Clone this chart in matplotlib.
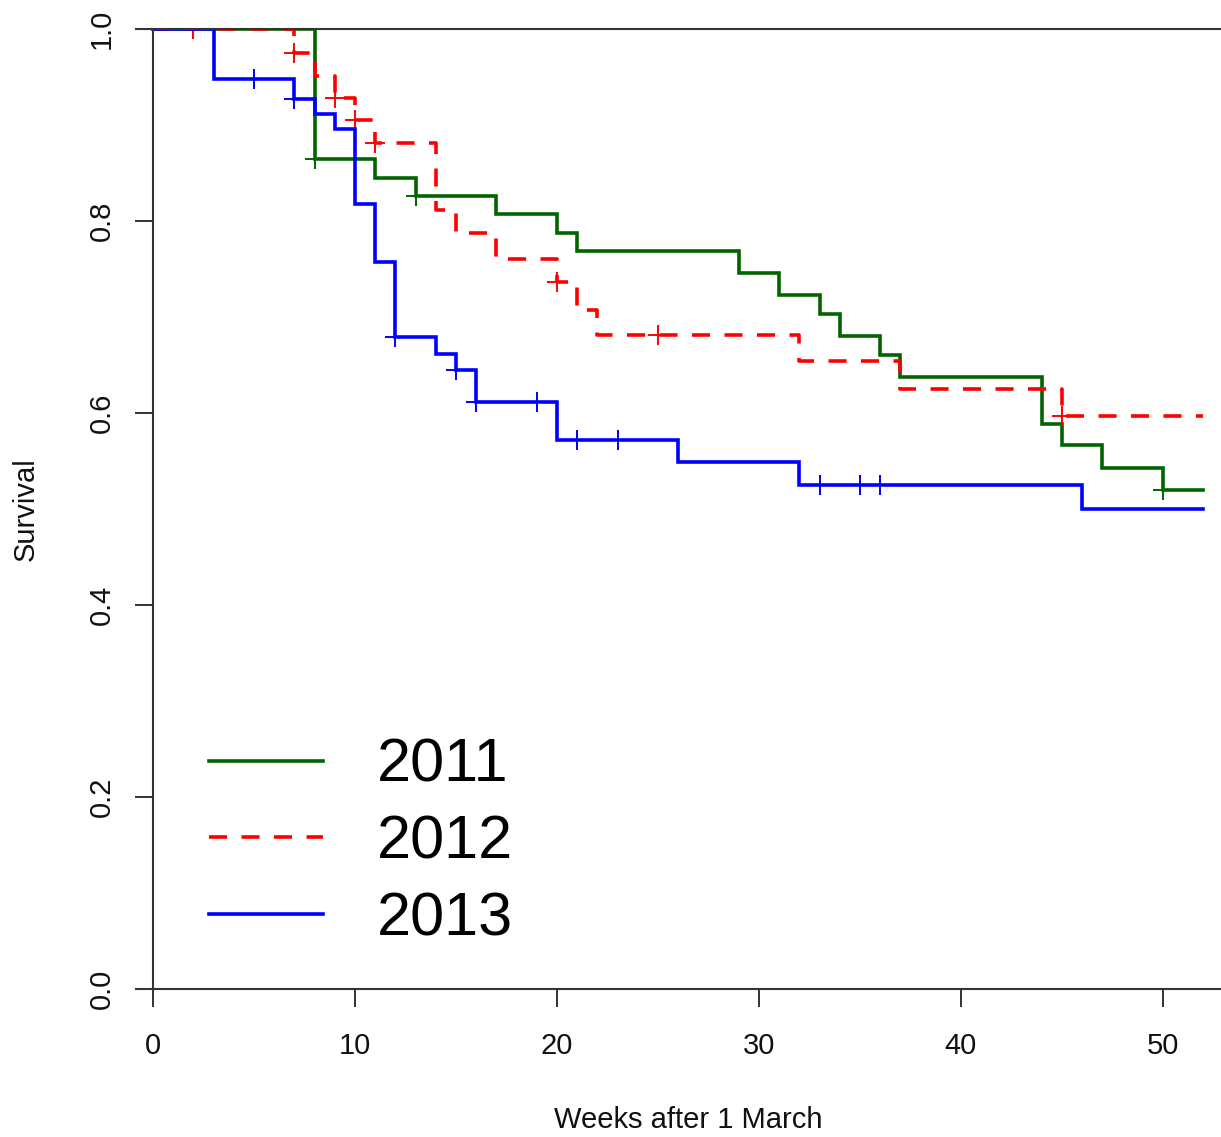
import numpy as np
import matplotlib
matplotlib.use("Agg")
import matplotlib.pyplot as plt

plt.rcParams['font.family'] = ['Liberation Sans', 'DejaVu Sans']

# ---- data ----
years = ["2011", "2012", "2013"]

t_2011 = [0, 8, 11, 13, 17, 20, 21, 29, 31, 33, 34, 36, 37, 44, 45, 47, 50]
s_2011 = [1.0, 0.865, 0.845, 0.826, 0.807, 0.788, 0.769, 0.746, 0.723, 0.703,
          0.680, 0.660, 0.637, 0.589, 0.567, 0.543, 0.520]
c_2011 = [8, 13, 50]

t_2012 = [0, 7, 8, 9, 10, 11, 14, 15, 17, 20, 21, 22, 32, 37, 45]
s_2012 = [1.0, 0.975, 0.951, 0.928, 0.905, 0.881, 0.811, 0.787, 0.760, 0.736,
          0.707, 0.681, 0.654, 0.625, 0.597]
c_2012 = [2, 7, 9, 10, 11, 20, 25, 45]

t_2013 = [0, 3, 7, 8, 9, 10, 11, 12, 14, 15, 16, 20, 26, 32, 46]
s_2013 = [1.0, 0.948, 0.927, 0.911, 0.896, 0.818, 0.757, 0.679, 0.661, 0.645,
          0.611, 0.572, 0.549, 0.525, 0.500]
c_2013 = [5, 7, 12, 15, 16, 19, 21, 23, 33, 35, 36]

t_end = 52
x_ticks = [0, 10, 20, 30, 40, 50]
y_ticks = [0.0, 0.2, 0.4, 0.6, 0.8, 1.0]

colors = ["#006400", "#FF0000", "#0000FF"]
styles = ["-", (0, (5, 4)), "-"]

# ---- figure ----
W, H = 1221, 1137
fig = plt.figure(figsize=(W / 100, H / 100), dpi=100)
ax = fig.add_axes([136 / W, 1 - 989 / H, (W - 136) / W, (989 - 29) / H])
ax.set_xlim(-0.84, (W - 153) / 20.2)
ax.set_ylim(0, 1)

series = [(t_2011, s_2011, c_2011), (t_2012, s_2012, c_2012), (t_2013, s_2013, c_2013)]
for (tt, ss, cc), col, ls, lab in zip(series, colors, styles, years):
    tt_full = np.array(tt + [t_end], dtype=float)
    ss_full = np.array(ss + [ss[-1]], dtype=float)
    ax.step(tt_full, ss_full, where='post', color=col, lw=2.6, ls=ls, label=lab,
            solid_joinstyle='miter', dash_capstyle='butt')
    cidx = np.searchsorted(np.array(tt, dtype=float), np.array(cc, dtype=float), side='right') - 1
    cy = np.array(ss)[cidx]
    ax.plot(cc, cy, ls='none', marker='+', ms=15, mew=1.4, color=col)

# spines
for s in ['top', 'bottom']:
    ax.spines[s].set_color('#333333')
    ax.spines[s].set_linewidth(1.5)
ax.spines['right'].set_visible(False)
ax.spines['left'].set_position(('data', 0))
ax.spines['left'].set_bounds(0, 1)
ax.spines['left'].set_color('#333333')
ax.spines['left'].set_linewidth(1.5)

ax.set_xticks(x_ticks)
ax.set_xticklabels([str(v) for v in x_ticks])
ax.set_yticks(y_ticks)
ax.set_yticklabels([f"{v:.1f}" for v in y_ticks], rotation=90, va='center')
ax.tick_params(axis='both', direction='out', length=13, width=1.3, color='#222222',
               labelsize=21, labelcolor='#111111')
ax.tick_params(axis='x', pad=18)
ax.tick_params(axis='y', pad=14)

fig.text(26 / W, 1 - 509 / H, "Survival", rotation=90, ha='center', va='center',
         fontsize=21, color='#111111')
fig.text(688 / W, 1 - 1120 / H, "Weeks after 1 March", ha='center', va='center',
         fontsize=21, color='#111111')

leg = ax.legend(loc='center left', bbox_to_anchor=(209 / W, 1 - 843 / H),
                bbox_transform=fig.transFigure, frameon=False, fontsize=44,
                handlelength=1.86, handletextpad=0.89, labelspacing=0.32,
                borderpad=0, borderaxespad=0)

fig.savefig("out.png", dpi=100)
